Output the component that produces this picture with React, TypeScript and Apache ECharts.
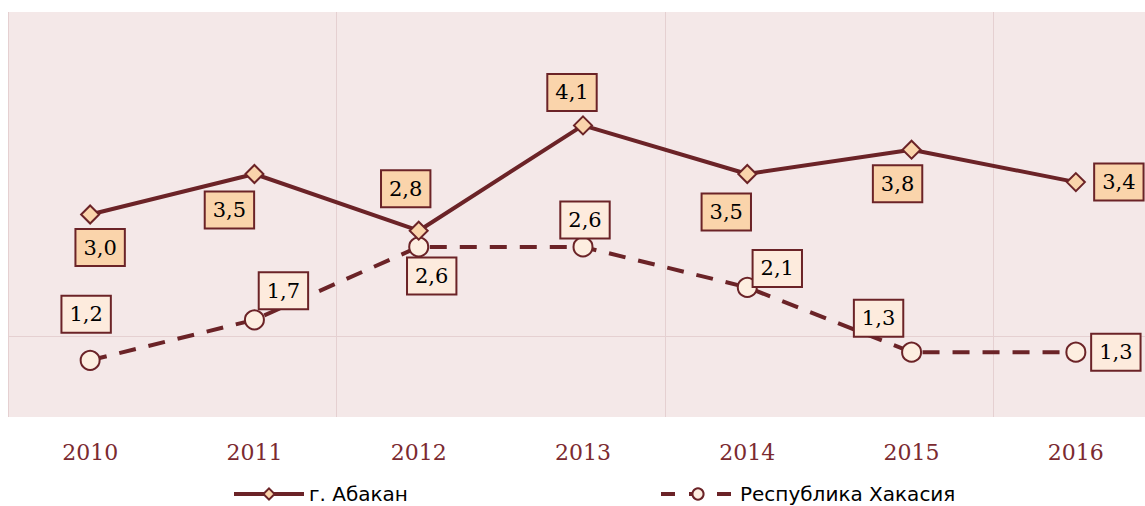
import React, { useEffect, useRef } from "react";
import * as echarts from "echarts";

const categories = ["2010", "2011", "2012", "2013", "2014", "2015", "2016"];
const abakanName = "г. Абакан";
const khakassiaName = "Республика Хакасия";
const abakanValues = [3.0, 3.5, 2.8, 4.1, 3.5, 3.8, 3.4];
const khakassiaValues = [1.2, 1.7, 2.6, 2.6, 2.1, 1.3, 1.3];

// label offsets (layout only)
const abakanLabelOffsets = [[10, 33], [-25, 36], [-13, -42], [-11, -33], [-21, 38], [-14, 34], [43, 0]];
const khakassiaLabelOffsets = [[-4, -46], [29, -29], [13, 29], [2, -27], [30, -19], [-33, -34], [40, 0]];

const MAROON = "#6b2327";

const fmt = (v: number) => v.toFixed(1).replace(".", ",");

export default function App() {
  const ref = useRef<HTMLDivElement>(null);
  useEffect(() => {
    document.body.style.margin = "0";
    const chart = echarts.init(ref.current!, null, { renderer: "svg" });
    const labelBase = {
      show: true,
      position: "inside",
      fontFamily: "DejaVu Serif",
      fontSize: 21,
      lineHeight: 22,
      color: "#000",
      borderColor: MAROON,
      borderWidth: 2,
      padding: [7, 7, 6, 7],
      formatter: (p: any) => fmt(p.value),
    };
    const legendText = { fontFamily: "DejaVu Sans", fontSize: 20, color: "#000" };
    chart.setOption({
      animation: false,
      grid: {
        left: 8,
        top: 12,
        width: 1150,
        height: 405,
        show: true,
        backgroundColor: "#f4e8e8",
        borderWidth: 0,
        outerBoundsMode: "none",
        containLabel: false,
      },
      legend: [
        {
          data: [abakanName],
          left: 227,
          top: 479,
          itemWidth: 70,
          itemHeight: 14,
          itemGap: 4,
          lineStyle: { width: 4 },
          textStyle: legendText,
        },
        {
          data: [khakassiaName],
          left: 654,
          top: 479,
          itemWidth: 74,
          itemHeight: 14,
          itemGap: 4,
          lineStyle: { width: 4, type: [14, 14] },
          textStyle: legendText,
        },
      ],
      xAxis: {
        type: "category",
        data: categories,
        boundaryGap: true,
        axisLine: { show: false },
        axisTick: { show: false },
        axisLabel: {
          margin: 24,
          fontFamily: "DejaVu Serif",
          fontSize: 22,
          color: "#7b2a30",
        },
        splitLine: {
          show: true,
          interval: 1,
          lineStyle: { color: "#e5d0d1", width: 1 },
        },
      },
      yAxis: {
        type: "value",
        min: 0.5,
        max: 5.5,
        show: false,
        splitLine: { show: false },
      },
      series: [
        {
          name: khakassiaName,
          type: "line",
          z: 2,
          symbol: "circle",
          symbolSize: 19,
          lineStyle: { color: MAROON, width: 4, type: [17, 13] },
          itemStyle: { color: "#fdeee0", borderColor: MAROON, borderWidth: 2 },
          data: khakassiaValues.map((v, i) => ({
            value: v,
            label: { ...labelBase, backgroundColor: "#fdebdd", offset: khakassiaLabelOffsets[i] },
          })),
          markLine: {
            silent: true,
            symbol: "none",
            label: { show: false },
            lineStyle: { color: "#e5d0d1", width: 1, type: "solid" },
            data: [{ yAxis: 1.5 }],
            z: 0,
          },
        },
        {
          name: abakanName,
          type: "line",
          z: 3,
          symbol: "diamond",
          symbolSize: 18,
          lineStyle: { color: MAROON, width: 4 },
          itemStyle: { color: "#fad4ab", borderColor: MAROON, borderWidth: 2 },
          data: abakanValues.map((v, i) => ({
            value: v,
            label: { ...labelBase, backgroundColor: "#fad4ab", offset: abakanLabelOffsets[i] },
          })),
        },
      ],
    });
    return () => chart.dispose();
  }, []);
  return <div ref={ref} style={{ width: 1145, height: 506 }} />;
}
